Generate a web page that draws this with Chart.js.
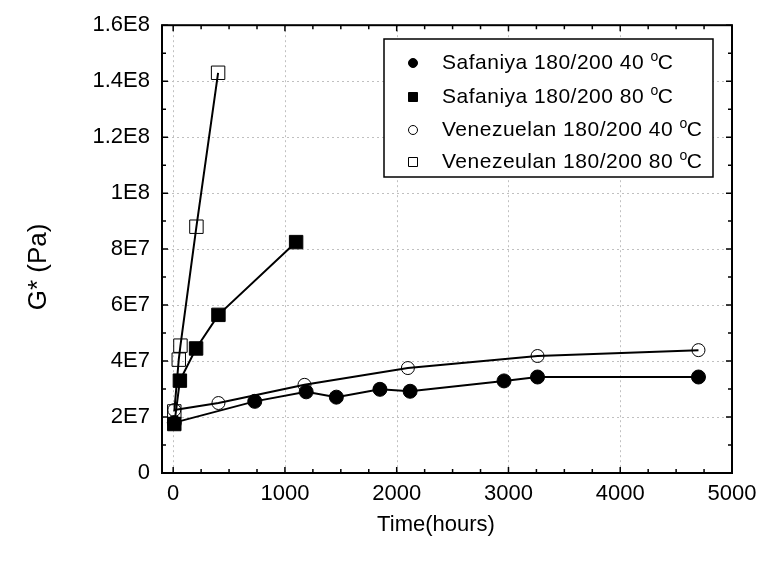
<!DOCTYPE html>
<html>
<head>
<meta charset="utf-8">
<script src="https://cdn.jsdelivr.net/npm/chart.js@4"></script>
<style>
  html, body { margin: 0; padding: 0; background: #fff; }
  #wrap { width: 762px; height: 565px; }
</style>
</head>
<body>
<div id="wrap"><canvas id="chart" width="762" height="565"></canvas></div>
<script>
// values
const seriesLabels = ['Safaniya 180/200 40 ', 'Safaniya 180/200 80 ', 'Venezuelan 180/200 40 ', 'Venezeulan 180/200 80 '];

const safaniya40Time = [10, 730, 1190, 1460, 1850, 2120, 2960, 3260, 4700];
const safaniya40G    = [1.8e7, 2.56e7, 2.9e7, 2.71e7, 2.99e7, 2.92e7, 3.29e7, 3.43e7, 3.43e7];

const safaniya80Time = [10, 60, 205, 405, 1100];
const safaniya80G    = [1.75e7, 3.3e7, 4.45e7, 5.65e7, 8.25e7];

const venez40Time = [10, 405, 1175, 2100, 3260, 4700];
const venez40G    = [2.25e7, 2.5e7, 3.15e7, 3.75e7, 4.18e7, 4.39e7];

const venez80Time = [10, 50, 65, 208, 402];
const venez80G    = [2.2e7, 4.05e7, 4.55e7, 8.8e7, 1.43e8];

const xTicks = [0, 1000, 2000, 3000, 4000, 5000];
const yTicks = [0, 2e7, 4e7, 6e7, 8e7, 1e8, 1.2e8, 1.4e8, 1.6e8];
const yTickLabels = ['0', '2E7', '4E7', '6E7', '8E7', '1E8', '1.2E8', '1.4E8', '1.6E8'];

const FONT = '"Liberation Sans", Arial, sans-serif';

function pts(xs, ys) {
    return xs.map((x, i) => ({ x: x, y: ys[i] }));
}

// frame, inward ticks, dotted grid
const framePlugin = {
    id: 'frame',
    beforeDatasetsDraw(chart) {
        const { ctx, chartArea: a, scales: { x, y } } = chart;
        ctx.save();
        ctx.strokeStyle = '#c0c0c0';
        ctx.lineWidth = 1;
        ctx.setLineDash([2, 3]);
        xTicks.forEach(v => {
            const px = Math.round(x.getPixelForValue(v)) + 0.5;
            if (px <= a.left + 2 || px >= a.right - 2) return;
            ctx.beginPath(); ctx.moveTo(px, a.top); ctx.lineTo(px, a.bottom); ctx.stroke();
        });
        yTicks.forEach(v => {
            const py = Math.round(y.getPixelForValue(v)) + 0.5;
            if (py <= a.top + 2 || py >= a.bottom - 2) return;
            ctx.beginPath(); ctx.moveTo(a.left, py); ctx.lineTo(a.right, py); ctx.stroke();
        });
        ctx.setLineDash([]);

        // tick marks, major + minor, all four sides, pointing in
        ctx.strokeStyle = '#000';
        ctx.lineWidth = 1.5;
        for (let v = 0; v <= 5000; v += 250) {
            const px = x.getPixelForValue(v);
            const len = v % 1000 === 0 ? 6 : 4;
            ctx.beginPath();
            ctx.moveTo(px, a.bottom); ctx.lineTo(px, a.bottom - len);
            ctx.moveTo(px, a.top); ctx.lineTo(px, a.top + len);
            ctx.stroke();
        }
        for (let v = 0; v <= 1.6e8; v += 1e7) {
            const py = y.getPixelForValue(v);
            const len = v % 2e7 === 0 ? 6 : 4;
            ctx.beginPath();
            ctx.moveTo(a.left, py); ctx.lineTo(a.left + len, py);
            ctx.moveTo(a.right, py); ctx.lineTo(a.right - len, py);
            ctx.stroke();
        }
        ctx.lineWidth = 2;
        ctx.strokeRect(a.left, a.top, a.right - a.left, a.bottom - a.top);

        // axis titles
        ctx.fillStyle = '#000';
        ctx.textAlign = 'center';
        ctx.textBaseline = 'middle';
        ctx.font = '22px ' + FONT;
        ctx.fillText('Time(hours)', 436, 525);
        ctx.font = '26px ' + FONT;
        ctx.translate(39, 267);
        ctx.rotate(-Math.PI / 2);
        ctx.fillText('G* (Pa)', 0, 0);
        ctx.restore();
    }
};

// boxed legend in the upper right
const legendPlugin = {
    id: 'boxLegend',
    afterDatasetsDraw(chart) {
        const ctx = chart.ctx;
        const left = 384, top = 39, right = 713, bottom = 177;
        const rows = [63, 97, 130, 162];
        ctx.save();
        ctx.fillStyle = '#fff';
        ctx.fillRect(left, top, right - left, bottom - top);
        ctx.strokeStyle = '#000';
        ctx.lineWidth = 1.5;
        ctx.strokeRect(left, top, right - left, bottom - top);
        chart.data.datasets.forEach((ds, i) => {
            const cy = rows[i];
            const cx = 413;
            ctx.lineWidth = 1;
            ctx.strokeStyle = '#000';
            ctx.fillStyle = ds.pointBackgroundColor;
            ctx.beginPath();
            if (ds.pointStyle === 'circle') {
                ctx.arc(cx, cy, 4.5, 0, Math.PI * 2);
            } else {
                ctx.rect(cx - 4.5, cy - 4.5, 9, 9);
            }
            ctx.fill();
            ctx.stroke();

            ctx.fillStyle = '#000';
            ctx.letterSpacing = '0.5px';
            ctx.font = '21px ' + FONT;
            ctx.textAlign = 'left';
            ctx.textBaseline = 'middle';
            ctx.fillText(ds.label, 442, cy);
            let w = ctx.measureText(ds.label).width;
            ctx.font = '14px ' + FONT;
            ctx.fillText('o', 442 + w, cy - 6);
            w += ctx.measureText('o').width - 1;
            ctx.font = '21px ' + FONT;
            ctx.fillText('C', 442 + w, cy);
        });
        ctx.restore();
    }
};

function lineSet(label, data, style, filled, radius) {
    return {
        label: label,
        data: data,
        borderColor: '#000',
        borderWidth: 2,
        backgroundColor: '#000',
        pointStyle: style,
        pointRadius: radius,
        pointHoverRadius: radius,
        pointBorderWidth: 1,
        pointBorderColor: '#000',
        pointBackgroundColor: filled ? '#000' : 'rgba(0,0,0,0)',
        tension: 0,
        fill: false
    };
}

new Chart(document.getElementById('chart'), {
    type: 'scatter',
    data: {
        datasets: [
            lineSet(seriesLabels[0], pts(safaniya40Time, safaniya40G), 'circle', true, 7),
            lineSet(seriesLabels[1], pts(safaniya80Time, safaniya80G), 'rect', true, 9.5),
            lineSet(seriesLabels[2], pts(venez40Time, venez40G), 'circle', false, 6.5),
            lineSet(seriesLabels[3], pts(venez80Time, venez80G), 'rect', false, 9.5)
        ].map(d => Object.assign(d, { showLine: true }))
    },
    options: {
        responsive: false,
        animation: false,
        layout: { padding: { top: 25, right: 30, left: 0, bottom: 0 } },
        plugins: { legend: { display: false }, tooltip: { enabled: false } },
        scales: {
            x: {
                type: 'linear',
                min: -100,
                max: 5000,
                grid: { display: false, drawTicks: false },
                border: { display: false },
                afterBuildTicks: s => { s.ticks = xTicks.map(v => ({ value: v })); },
                afterFit: s => { s.height = 92; s.paddingLeft = 0; s.paddingRight = 0; },
                ticks: {
                    color: '#000',
                    font: { family: FONT, size: 22 },
                    padding: 8,
                    maxRotation: 0,
                    callback: v => String(v)
                }
            },
            y: {
                type: 'linear',
                min: 0,
                max: 1.6e8,
                grid: { display: false, drawTicks: false },
                border: { display: false },
                afterBuildTicks: s => { s.ticks = yTicks.map(v => ({ value: v })); },
                afterFit: s => { s.width = 162; },
                ticks: {
                    color: '#000',
                    font: { family: FONT, size: 22 },
                    padding: 12,
                    callback: v => yTickLabels[yTicks.indexOf(v)]
                }
            }
        }
    },
    plugins: [framePlugin, legendPlugin]
});
</script>
</body>
</html>
